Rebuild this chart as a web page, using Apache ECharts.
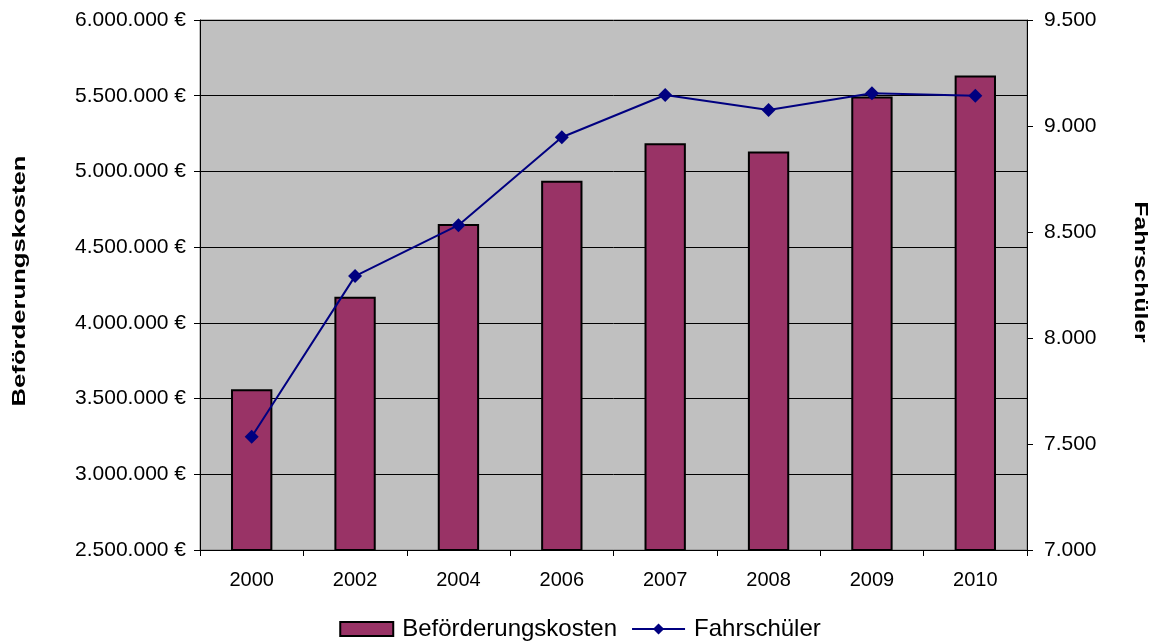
<!DOCTYPE html>
<html>
<head>
<meta charset="utf-8">
<script src="https://cdn.jsdelivr.net/npm/echarts@6/dist/echarts.min.js"></script>
<style>
  html, body { margin: 0; padding: 0; background: #fff; }
  #chart { width: 1160px; height: 643px; }
</style>
</head>
<body>
<div id="chart"></div>
<script>
// Years on the category axis
const years = ['2000', '2002', '2004', '2006', '2007', '2008', '2009', '2010'];
// Transport costs in euro (left axis)
const kosten = [3561000, 4172000, 4653000, 4939000, 5186000, 5131000, 5494000, 5633000];
// Number of pupils transported (right axis)
const fahrschueler = [7534, 8292, 8532, 8947, 9146, 9075, 9154, 9143];
// Axis titles
const leftTitle = 'Beförderungskosten';
const rightTitle = 'Fahrschüler';

const FONT = 'Liberation Sans, Arial, sans-serif';

// German thousands grouping: 6000000 -> "6.000.000"
function fmt(v) {
  return String(Math.round(v)).replace(/\B(?=(\d{3})+(?!\d))/g, '.');
}

const chart = echarts.init(document.getElementById('chart'));
chart.setOption({
  animation: false,
  textStyle: { fontFamily: FONT },
  grid: {
    left: 200, right: 133, top: 20, bottom: 93,
    containLabel: false, outerBoundsMode: 'none',
    show: true, backgroundColor: '#C0C0C0', borderColor: '#808080', borderWidth: 1
  },
  // Wide bold axis titles, stretched along their reading direction
  graphic: [
    {
      type: 'text', x: 20, y: 281, rotation: Math.PI / 2, scaleX: 1.35,
      style: {
        text: leftTitle, fill: '#000', align: 'center', verticalAlign: 'middle',
        font: 'bold 19px ' + FONT
      }
    },
    {
      type: 'text', x: 1140, y: 272, rotation: -Math.PI / 2, scaleX: 1.3,
      style: {
        text: rightTitle, fill: '#000', align: 'center', verticalAlign: 'middle',
        font: 'bold 19px ' + FONT
      }
    }
  ],
  legend: {
    bottom: -3, left: 'center',
    itemGap: 14, itemWidth: 53, itemHeight: 14,
    textStyle: { fontSize: 24, color: '#000', fontFamily: FONT, padding: [0, 0, 0, 4] },
    data: [
      { name: 'Beförderungskosten', icon: 'rect' },
      { name: 'Fahrschüler' }
    ]
  },
  xAxis: {
    type: 'category',
    data: years,
    axisLine: { lineStyle: { color: '#000', width: 1 } },
    axisTick: { show: true, length: 6, alignWithLabel: false, lineStyle: { color: '#000' } },
    axisLabel: { fontSize: 20, color: '#000', margin: 20, fontFamily: FONT }
  },
  yAxis: [
    {
      type: 'value',
      min: 2500000, max: 6000000, interval: 500000,
      axisLine: { show: true, lineStyle: { color: '#000' } },
      axisTick: { show: true, length: 6, lineStyle: { color: '#000' } },
      splitLine: { show: true, lineStyle: { color: '#000', width: 1 } },
      axisLabel: {
        fontSize: 21, color: '#000', margin: 14, fontFamily: FONT,
        formatter: v => fmt(v) + ' €'
      }
    },
    {
      type: 'value',
      min: 7000, max: 9500, interval: 500,
      axisLine: { show: true, lineStyle: { color: '#000' } },
      axisTick: { show: true, length: 6, lineStyle: { color: '#000' } },
      splitLine: { show: false },
      axisLabel: {
        fontSize: 21, color: '#000', margin: 17, fontFamily: FONT,
        formatter: v => fmt(v)
      }
    }
  ],
  series: [
    {
      name: 'Beförderungskosten',
      type: 'bar',
      yAxisIndex: 0,
      data: kosten,
      barWidth: '40%',
      itemStyle: { color: '#993366', borderColor: '#000', borderWidth: 2 }
    },
    {
      name: 'Fahrschüler',
      type: 'line',
      yAxisIndex: 1,
      data: fahrschueler,
      symbol: 'diamond',
      symbolSize: 14,
      lineStyle: { color: '#000080', width: 2 },
      itemStyle: { color: '#000080' }
    }
  ]
});
</script>
</body>
</html>
